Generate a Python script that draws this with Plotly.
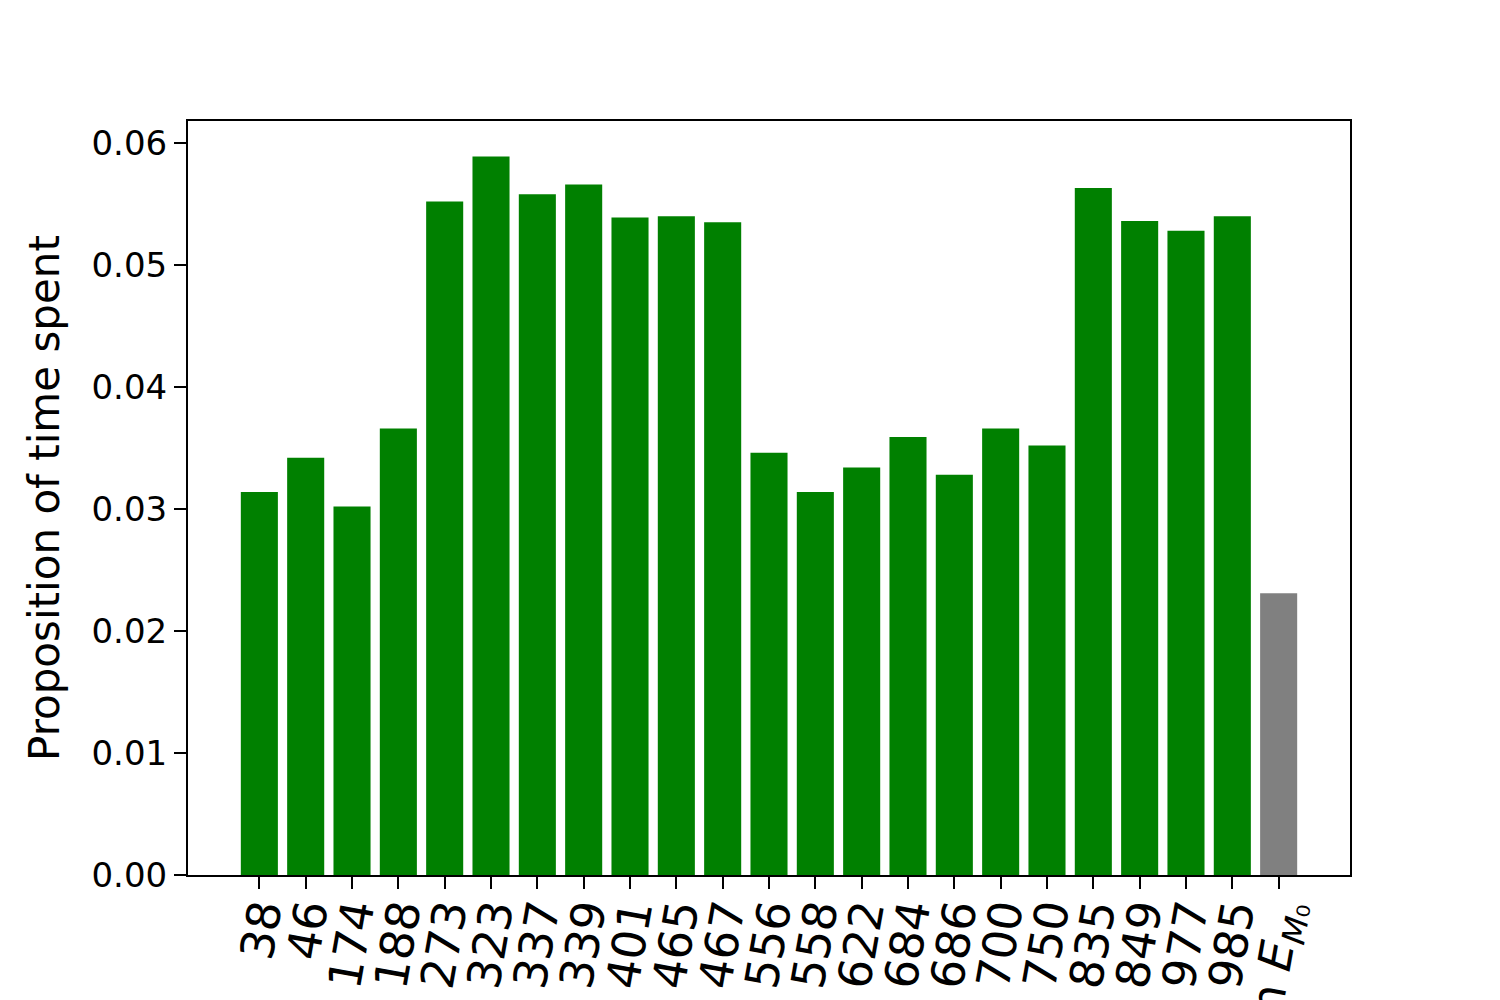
import plotly.graph_objects as go

categories = ["38", "46", "174", "188", "273", "323", "337", "339", "401", "465", "467",
              "556", "558", "622", "684", "686", "700", "750", "835", "849", "977", "985",
              "not in <i>E</i><sub><i>M</i>₀</sub>"]
values = [0.0314, 0.0342, 0.0302, 0.0366, 0.0552, 0.0589, 0.0558, 0.0566, 0.0539, 0.0540,
          0.0535, 0.0346, 0.0314, 0.0334, 0.0359, 0.0328, 0.0366, 0.0352, 0.0563, 0.0536,
          0.0528, 0.0540, 0.0231]
colors = ["#008000"] * 22 + ["#808080"]
y_ticks = [0.0, 0.01, 0.02, 0.03, 0.04, 0.05, 0.06]
y_ticklabels = ["0.00", "0.01", "0.02", "0.03", "0.04", "0.05", "0.06"]

xpos = list(range(len(categories)))

fig = go.Figure(go.Bar(x=xpos, y=values, marker_color=colors, marker_line_width=0, width=0.8))

fig.update_layout(
    width=1500, height=1000,
    margin=dict(l=180, r=158, t=113, b=133, autoexpand=False),
    paper_bgcolor="white", plot_bgcolor="white",
    font=dict(family="DejaVu Sans", color="black"),
    showlegend=False,
)
fig.update_xaxes(
    tickmode="array", tickvals=xpos, ticktext=categories,
    range=[-1.54, len(categories) - 1 + 1.54],
    tickangle=-80, tickfont=dict(size=46),
    ticks="outside", ticklen=12, tickwidth=2, tickcolor="black",
    ticklabelstandoff=-21,
    showline=True, linecolor="black", linewidth=2, mirror=True,
    showgrid=False, zeroline=False, automargin=False,
)
fig.update_yaxes(
    tickmode="array", tickvals=y_ticks, ticktext=y_ticklabels,
    range=[0, 0.0618], tickfont=dict(size=34),
    ticks="outside", ticklen=12, tickwidth=2, tickcolor="black",
    showline=True, linecolor="black", linewidth=2, mirror=True,
    showgrid=False, zeroline=False, automargin=False,
    title=dict(text="Proposition of time spent", font=dict(size=42), standoff=19),
)

fig.write_html("out.html")
